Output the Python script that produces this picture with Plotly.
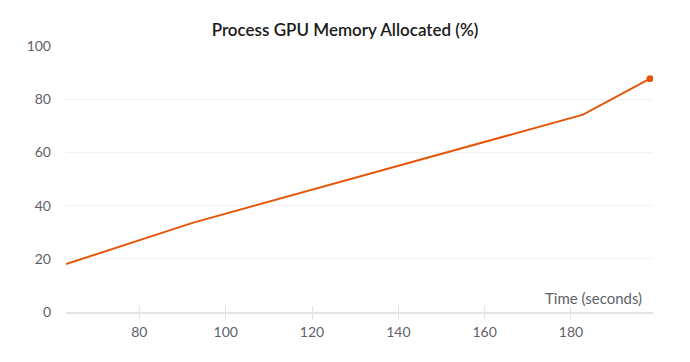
import plotly.graph_objects as go

time_s = [63, 92.5, 182.8, 198.3]
mem_pct = [18.0, 33.6, 74.2, 87.7]
x_ticks = [80, 100, 120, 140, 160, 180]
y_ticks = [0, 20, 40, 60, 80, 100]

color = "#E4570B"
font_fam = "Lato, 'Open Sans', sans-serif"

fig = go.Figure()
fig.add_trace(go.Scatter(
    x=time_s, y=mem_pct, mode="lines",
    line=dict(color=color, width=2), showlegend=False))
fig.add_trace(go.Scatter(
    x=time_s[-1:], y=mem_pct[-1:], mode="markers",
    marker=dict(color=color, size=7), showlegend=False))
# invisible trace on second x axis for inside ticks
fig.add_trace(go.Scatter(x=time_s[-1:], y=mem_pct[-1:], xaxis="x2", mode="markers",
                         marker=dict(opacity=0), showlegend=False, hoverinfo="skip"))

fig.update_layout(
    width=690, height=362,
    margin=dict(l=66, r=37, t=46, b=50),
    paper_bgcolor="white", plot_bgcolor="white",
    title=dict(text="Process GPU Memory Allocated (%)", x=0.5, xanchor="center",
               y=0.917, yanchor="middle",
               font=dict(family=font_fam, size=17, color="#1a1a1a", weight=600)),
    xaxis=dict(range=[63, 199], tickvals=x_ticks, ticktext=[str(v) for v in x_ticks],
               showgrid=False, zeroline=False,
               showline=True, linecolor="#e4e4e6", linewidth=2,
               ticks="outside", ticklen=6, tickcolor="#e4e4e6", tickwidth=1,
               tickfont=dict(family=font_fam, size=14, color="#5f5f6b")),
    xaxis2=dict(range=[63, 199], overlaying="x", side="bottom", tickvals=x_ticks,
                showticklabels=False, showgrid=False, zeroline=False, showline=False,
                ticks="inside", ticklen=6, tickcolor="#e4e4e6", tickwidth=1),
    yaxis=dict(range=[0, 100], tickvals=y_ticks, ticktext=[str(v) for v in y_ticks],
               showgrid=True, gridcolor="#f2f2f3", gridwidth=1, zeroline=False,
               showline=False, ticks="", ticklabelstandoff=14,
               tickfont=dict(family=font_fam, size=14, color="#5f5f6b")),
    annotations=[dict(text="Time (seconds)", xref="paper", yref="paper",
                      x=1.0, y=0.0, xanchor="right", yanchor="bottom",
                      yshift=3, xshift=-9,
                      showarrow=False,
                      font=dict(family=font_fam, size=15, color="#5f5f6b"))],
)

fig.write_html("out.html")
